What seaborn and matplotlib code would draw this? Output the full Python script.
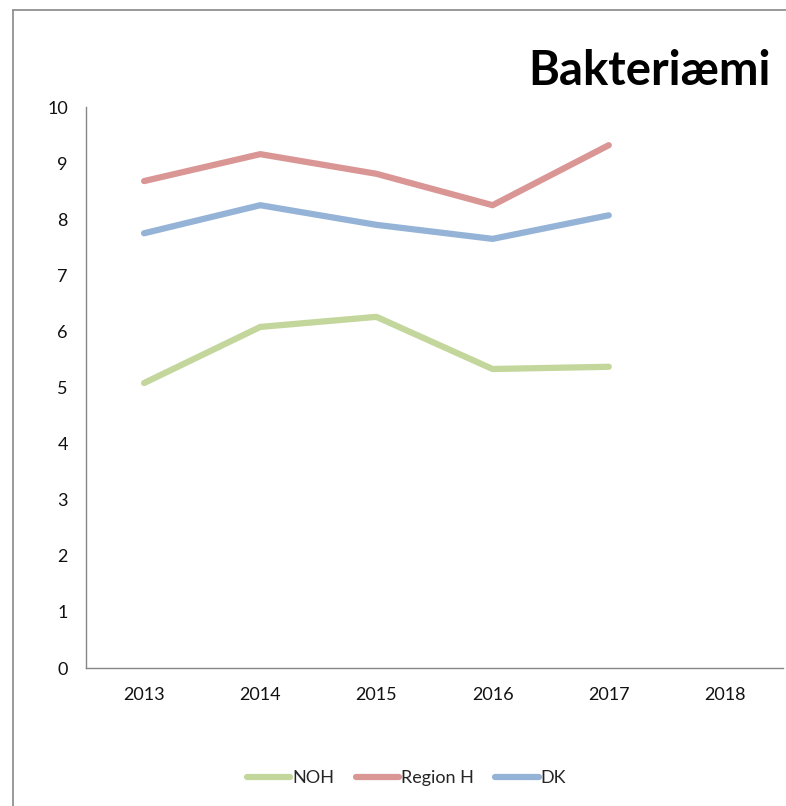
import numpy as np
import pandas as pd
import matplotlib
matplotlib.use("Agg")
import matplotlib.pyplot as plt
from matplotlib.lines import Line2D
import seaborn as sns

# data
years = ["2013", "2014", "2015", "2016", "2017", "2018"]
noh = [5.08, 6.08, 6.26, 5.33, 5.37, np.nan]
region_h = [8.68, 9.16, 8.81, 8.25, 9.32, np.nan]
dk = [7.75, 8.25, 7.90, 7.65, 8.07, np.nan]
series_names = ["NOH", "Region H", "DK"]
colors = ["#c3d69b", "#d99694", "#95b3d7"]

sns.set_style("white")
plt.rcParams["font.family"] = ["Lato", "DejaVu Sans"]

rows = []
for name, vals in zip(series_names, [noh, region_h, dk]):
    for i, v in enumerate(vals):
        rows.append({"pos": i, "value": v, "serie": name})
df = pd.DataFrame(rows).dropna()

fig = plt.figure(figsize=(7.86, 8.06), dpi=100)
ax = fig.add_axes([0.1094, 0.1712, 0.8868, 0.696])

sns.lineplot(data=df, x="pos", y="value", hue="serie", hue_order=series_names,
             palette=colors, linewidth=4.5, ax=ax, legend=False,
             solid_capstyle="round", solid_joinstyle="round")

ax.set_xlim(-0.5, len(years) - 0.5)
ax.set_ylim(0, 10)
ax.set_yticks(range(0, 11))
ax.set_xticks(np.arange(-0.5, len(years), 1.0))
ax.set_xticklabels([])
ax.set_xticks(range(len(years)), minor=True)
ax.set_xticklabels(years, minor=True)
ax.tick_params(axis="x", which="major", length=5, color="#868686", width=1)
ax.tick_params(axis="x", which="minor", length=0, pad=14, labelsize=13, labelcolor="#111111")
ax.tick_params(axis="y", length=5, color="#868686", width=1, labelsize=13,
               pad=8, labelcolor="#111111")
ax.set_xlabel("")
ax.set_ylabel("")
for s in ["top", "right"]:
    ax.spines[s].set_visible(False)
for s in ["left", "bottom"]:
    ax.spines[s].set_color("#868686")
    ax.spines[s].set_linewidth(1)

fig.text(0.98, 0.8945, "Bakteriæmi", ha="right", va="baseline",
         fontsize=34, fontweight="bold", color="black")

handles = [Line2D([0], [0], color=c, lw=4.5, solid_capstyle="round") for c in colors]
fig.legend(handles, series_names, loc="center", bbox_to_anchor=(0.517, 1 - 778 / 806),
           ncol=3, frameon=False, fontsize=13, handlelength=2.4,
           handletextpad=0.1, columnspacing=1.2)

# outer chart frame (left and top edges visible)
fig.add_artist(Line2D([0.0165, 0.0165], [0, 0.9876], color="#878787", lw=1.2,
                      transform=fig.transFigure))
fig.add_artist(Line2D([0.0165, 1], [0.9876, 0.9876], color="#878787", lw=1.2,
                      transform=fig.transFigure))

fig.savefig("out.png", dpi=100)
